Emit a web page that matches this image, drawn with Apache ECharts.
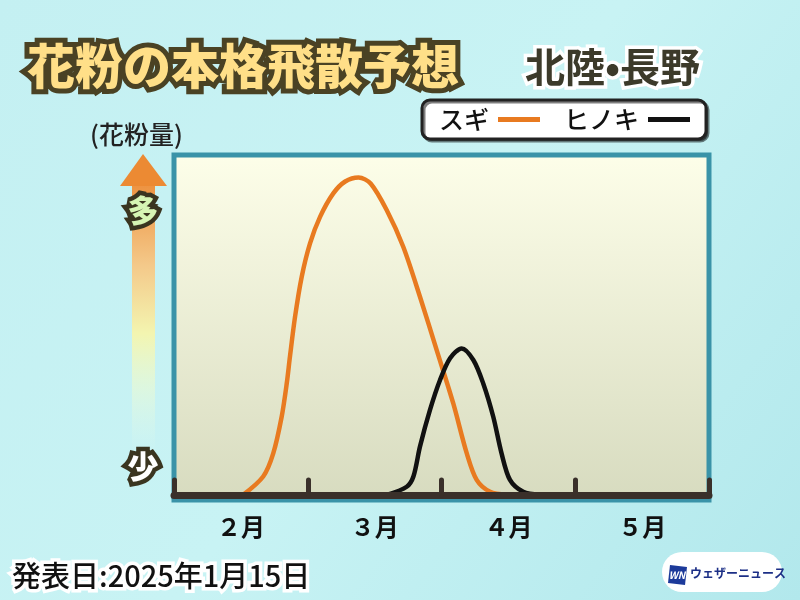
<!DOCTYPE html>
<html>
<head>
<meta charset="utf-8">
<script src="https://cdn.jsdelivr.net/npm/echarts@6/dist/echarts.min.js"></script>
<style>html,body{margin:0;padding:0;}#c{width:800px;height:600px;}</style>
</head>
<body>
<div id="c"></div>
<script>
const months = ['２月', '３月', '４月', '５月'];
const seriesNames = ['スギ', 'ヒノキ'];
// x: months elapsed since Feb 1, y: relative pollen amount
const sugi = [
  [0.517, 0], [0.667, 5.4], [0.742, 12.2], [0.805, 23.0], [0.843, 32.8], [0.867, 40.7],
  [0.905, 52.4], [0.955, 64.2], [1.017, 74.0], [1.092, 81.8], [1.191, 88.7], [1.28, 92.2],
  [1.38, 93.4], [1.47, 91.6], [1.59, 83.8], [1.714, 73.0], [1.839, 58.3], [1.964, 42.6],
  [2.088, 26.9], [2.189, 12.2], [2.263, 4.4], [2.363, 0.9], [2.488, 0]
];
const hinoki = [
  [1.590, 0], [1.740, 2.4], [1.790, 5.4], [1.839, 14.2], [1.914, 25.0], [1.989, 33.8],
  [2.064, 40.2], [2.151, 43.1], [2.238, 39.7], [2.312, 32.8], [2.387, 23.0], [2.449, 12.2],
  [2.512, 4.4], [2.611, 0.9], [2.736, 0]
];
const titleText = '花粉の本格飛散予想';
const regionText = '北陸•長野';
const unitText = '(花粉量)';
const dateText = '発表日:2025年1月15日';

const FONT = '"Noto Sans CJK JP", "Noto Sans", sans-serif';
const chart = echarts.init(document.getElementById('c'));
const G = echarts.graphic;

// outlined text: stroke layer beneath, fill layer on top (same anchor point)
function outlined(x, y, style, stroke, lw, z) {
  const base = Object.assign({ verticalAlign: 'middle' }, style);
  return [
    { type: 'text', x: x, y: y, z: z, silent: true,
      style: Object.assign({}, base, { fill: stroke, stroke: stroke, lineWidth: lw, lineJoin: 'round' }) },
    { type: 'text', x: x, y: y, z: z + 1, silent: true,
      style: Object.assign({}, base) }
  ];
}

const graphics = [].concat(
  outlined(27, 66, { text: titleText, font: '900 48px ' + FONT, fill: '#ffdf88' }, '#4a4224', 10, 10),
  outlined(525, 67, { text: regionText, font: 'bold 40px ' + FONT, fill: '#3c3a2a' }, '#ffffff', 7, 10),
  [
    { type: 'text', x: 90, y: 134, z: 10,
      style: { text: unitText, font: '500 25px ' + FONT, fill: '#222', verticalAlign: 'middle' } },
    { type: 'rect', shape: { x: 132, y: 184, width: 23, height: 272 }, z: 9,
      style: { fill: new G.LinearGradient(0, 0, 0, 1, [
        { offset: 0, color: '#ed9240' },
        { offset: 0.3, color: '#f4c98a' },
        { offset: 0.55, color: '#f3f5b0' },
        { offset: 0.75, color: 'rgba(235,250,210,0.6)' },
        { offset: 1, color: 'rgba(225,250,240,0)' }
      ]) } },
    { type: 'polygon', shape: { points: [[143, 154], [167, 186], [120, 186]] }, z: 9,
      style: { fill: '#ec8a33' } }
  ],
  outlined(143, 210, { text: '多', font: '900 31px ' + FONT, align: 'center', fill: '#d6f5b4' }, '#3a3520', 9, 12),
  outlined(143, 466, { text: '少', font: '900 31px ' + FONT, align: 'center', fill: '#ffffff' }, '#3a3520', 9, 12),
  outlined(12, 576, { text: dateText, font: '500 29px ' + FONT, fill: '#111' }, '#ffffff', 7, 10),
  [
    { type: 'rect', shape: { x: 662, y: 552, width: 120, height: 40, r: 20 }, z: 10,
      style: { fill: '#ffffff' } },
    { type: 'polygon', shape: { points: [[670, 565], [687, 567], [685, 585], [668, 583]] }, z: 11,
      style: { fill: '#1c3a9a' } },
    { type: 'text', x: 677, y: 575, z: 12,
      style: { text: 'WN', font: 'italic bold 10px ' + FONT, fill: '#ffffff', align: 'center', verticalAlign: 'middle' } },
    { type: 'text', x: 690, y: 573, z: 11,
      style: { text: 'ウェザーニュース', font: 'bold 12px ' + FONT, fill: '#1c2f86', verticalAlign: 'middle' } }
  ]
);

chart.setOption({
  animation: false,
  backgroundColor: new G.LinearGradient(0, 0, 1, 1, [
    { offset: 0, color: '#c4f0f2' },
    { offset: 0.5, color: '#c8f3f4' },
    { offset: 1, color: '#b2e8ec' }
  ]),
  grid: {
    left: 174, right: 91, top: 155, bottom: 100,
    show: true,
    borderColor: '#3a93a8',
    borderWidth: 5,
    backgroundColor: new G.LinearGradient(0, 0, 0, 1, [
      { offset: 0, color: '#fdfee9' },
      { offset: 1, color: '#d7dbbf' }
    ])
  },
  legend: {
    data: seriesNames,
    left: 422, top: 100,
    align: 'right',
    icon: 'rect',
    itemWidth: 42, itemHeight: 5,
    itemGap: 24,
    padding: [7, 16, 7, 17],
    backgroundColor: '#ffffff',
    borderColor: '#222222',
    borderWidth: 3,
    borderRadius: 8,
    shadowColor: 'rgba(0,0,0,0.5)', shadowOffsetX: 2, shadowOffsetY: 2, shadowBlur: 0,
    textStyle: { fontFamily: FONT, fontWeight: 500, fontSize: 25, color: '#111', padding: [0, 4, 0, 0] }
  },
  xAxis: [
    {
      type: 'category',
      data: months,
      boundaryGap: true,
      axisLine: { show: true, lineStyle: { color: '#3a302a', width: 7, cap: 'round' } },
      axisTick: { show: true, inside: true, length: 15, lineStyle: { color: '#3a302a', width: 5, cap: 'round' } },
      axisLabel: { fontFamily: FONT, fontWeight: 'bold', fontSize: 24, color: '#111', margin: 15 },
      splitLine: { show: false },
      z: 5
    },
    { type: 'value', min: 0, max: 4, show: false }
  ],
  yAxis: { type: 'value', min: -1.5, max: 100, show: false },
  series: [
    {
      name: seriesNames[0], type: 'line', xAxisIndex: 1, data: sugi,
      smooth: 0.3, showSymbol: false, symbol: 'none',
      color: '#e87a20',
      lineStyle: { color: '#e87a20', width: 4.5 }, z: 3
    },
    {
      name: seriesNames[1], type: 'line', xAxisIndex: 1, data: hinoki,
      smooth: 0.3, showSymbol: false, symbol: 'none',
      color: '#111111',
      lineStyle: { color: '#111111', width: 4.5 }, z: 4
    }
  ],
  graphic: graphics
});
</script>
</body>
</html>
